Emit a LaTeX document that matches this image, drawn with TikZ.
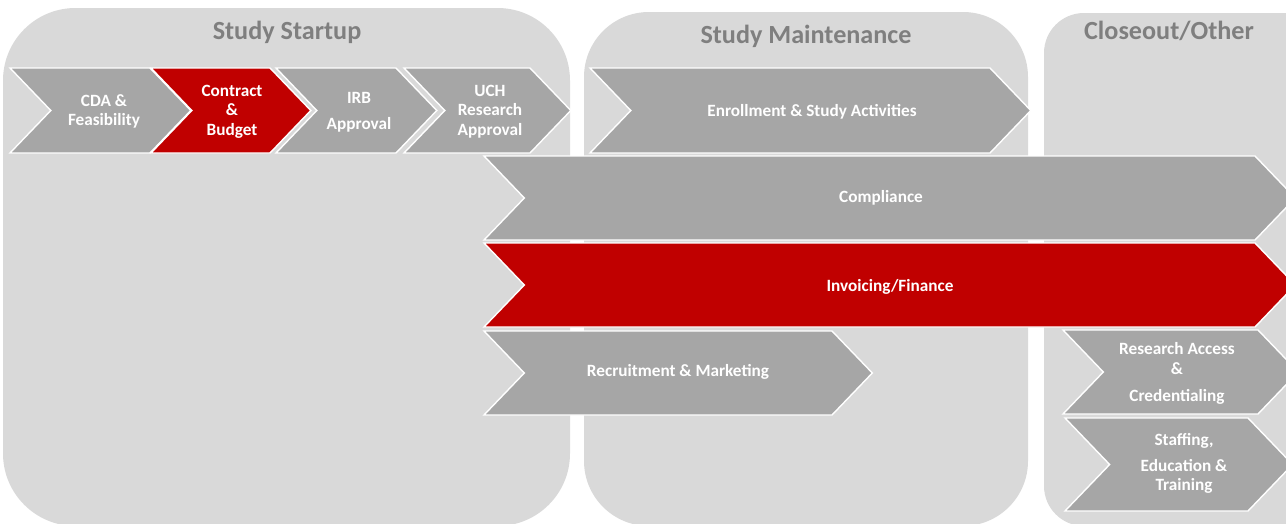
\documentclass[tikz,border=0pt]{standalone}
\usepackage{fontspec}
\setmainfont{Carlito}
\usetikzlibrary{positioning}
\definecolor{panelgray}{HTML}{D9D9D9}
\definecolor{chevgray}{HTML}{A6A6A6}
\definecolor{chevred}{HTML}{C00000}
\definecolor{titlegray}{HTML}{7F7F7F}
\tikzstyle{panel}=[fill=panelgray]
\tikzstyle{title}=[text=titlegray, font=\fontsize{14.9}{17}\selectfont\bfseries]
\tikzstyle{lbl}=[text=white, align=center, inner sep=0pt, font=\fontsize{9.8}{11}\selectfont\bfseries]
\tikzstyle{gch}=[fill=chevgray, draw=white, line width=0.8pt, line join=miter]
\tikzstyle{rch}=[fill=chevred, draw=white, line width=0.8pt, line join=miter]
% chevron: style, left, right, top, bottom (pixels)
\newcommand{\chev}[5]{%
  \pgfmathsetmacro{\midy}{(#4+#5)/2}%
  \pgfmathsetmacro{\tipd}{0.48*(#5-#4)}%
  \filldraw[#1] (#2,#4) -- (#3,#4) -- ({#3+\tipd},\midy) -- (#3,#5) -- (#2,#5)
    -- ({#2+\tipd},\midy) -- cycle;}

\begin{document}
\begin{tikzpicture}[x=0.02cm,y=-0.02cm]
\useasboundingbox (0,0) rectangle (1286,524);
\clip (0,0) rectangle (1286,524);

% phases
\fill[panel, rounded corners=1.45cm] (3,8) rectangle (570,526);
\fill[panel, rounded corners=1.3cm] (584,12) rectangle (1028,526);
\fill[panel, rounded corners=0.8cm] (1044,13) rectangle (1330,526);

\node[title] (startup) at (287,32) {Study Startup};
\node[title] (maint) at (806,36) {Study Maintenance};
\node[title] (closeout) at (1169,31) {Closeout/Other};

% startup steps
\chev{gch}{10}{150}{68}{153}
\node[lbl] (cda) at (104,111.5) {CDA \&\\Feasibility};
\chev{rch}{151}{270}{68}{153}
\node[lbl] (contract) at (232,111.5) {Contract\\\&\\Budget};
\chev{gch}{276}{396}{68}{153}
\node[lbl] (irb) at (359,112.5) {IRB\\[3.8pt]Approval};
\chev{gch}{404}{530}{68}{153}
\node[lbl] (uch) at (490,111.5) {UCH\\Research\\Approval};

% maintenance
\chev{gch}{590}{990}{68}{153}
\node[lbl] (enroll) at (812,111.5) {Enrollment \& Study Activities};
\chev{gch}{484}{1255}{156}{240}
\node[lbl] (compl) at (881,197.5) {Compliance};
\chev{rch}{484}{1255}{243}{327}
\node[lbl] (invoice) at (890,286.5) {Invoicing/Finance};
\chev{gch}{484}{832}{331}{415}
\node[lbl] (recruit) at (678,371.5) {Recruitment \& Marketing};

% closeout
\chev{gch}{1063}{1258}{330}{414}
\node[lbl] (access) at (1177,373.5) {Research Access\\\&\\[4.5pt]Credentialing};
\chev{gch}{1065}{1248}{418}{511}
\node[lbl] (staff) at (1184,463.5) {Staffing,\\[3.8pt]Education \&\\Training};
\end{tikzpicture}
\end{document}
